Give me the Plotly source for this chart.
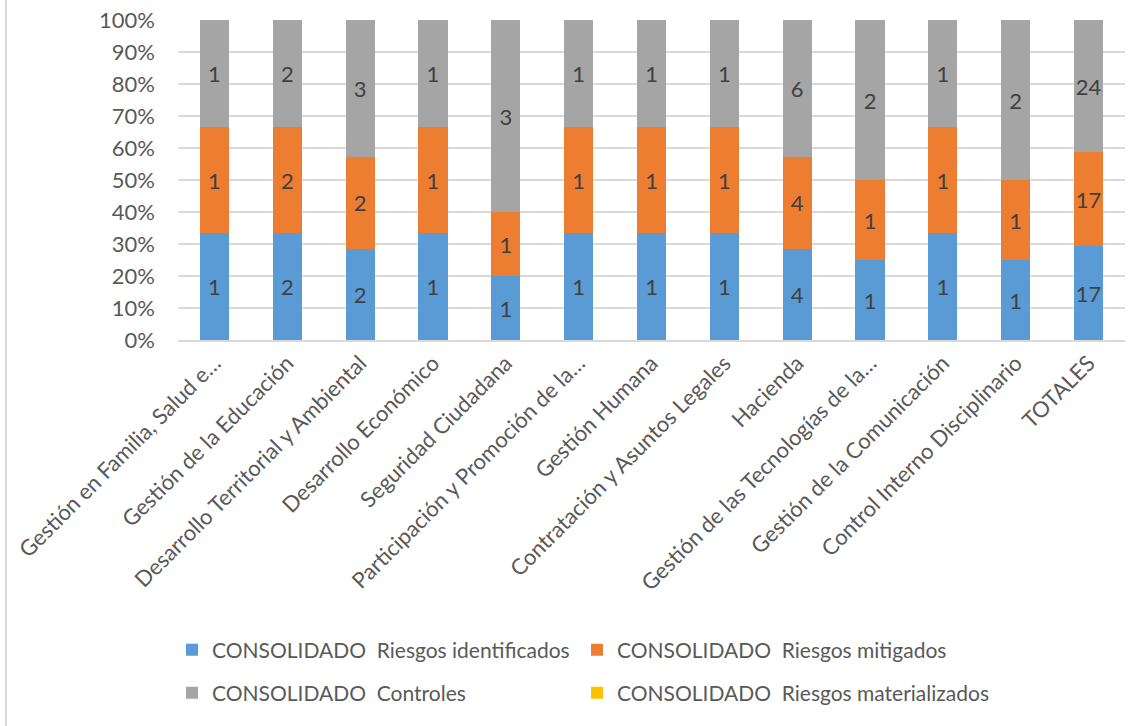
import plotly.graph_objects as go

categories = [
    "Gestión en Familia, Salud e…",
    "Gestión de la Educación",
    "Desarrollo Territorial y Ambiental",
    "Desarrollo Económico",
    "Seguridad Ciudadana",
    "Participación y Promoción de la…",
    "Gestión Humana",
    "Contratación y Asuntos Legales",
    "Hacienda",
    "Gestión de las Tecnologías de la…",
    "Gestión de la Comunicación",
    "Control Interno Disciplinario",
    "TOTALES",
]
riesgos_identificados = [1, 2, 2, 1, 1, 1, 1, 1, 4, 1, 1, 1, 17]
riesgos_mitigados = [1, 2, 2, 1, 1, 1, 1, 1, 4, 1, 1, 1, 17]
controles = [1, 2, 3, 1, 3, 1, 1, 1, 6, 2, 1, 2, 24]
riesgos_materializados = [0, 0, 0, 0, 0, 0, 0, 0, 0, 0, 0, 0, 0]
y_ticks = list(range(0, 101, 10))
y_tick_labels = [f"{v}%" for v in y_ticks]

W, H = 1143, 726
L, R, T, B = 178, 18, 20, 386
FONT = "Lato"
TXT = "#595959"

ph = H - T - B
pw = W - L - R


def py(px):
    return (H - B - px) / ph


def pxp(px):
    return (px - L) / pw


# one single-entry legend per series, laid out as a 2x2 grid below the chart
series = [
    ("CONSOLIDADO  Riesgos identificados", riesgos_identificados, "#5B9BD5", "legend", 172, 650),
    ("CONSOLIDADO  Riesgos mitigados", riesgos_mitigados, "#ED7D31", "legend2", 577, 650),
    ("CONSOLIDADO  Controles", controles, "#A5A5A5", "legend3", 172, 693),
    ("CONSOLIDADO  Riesgos materializados", riesgos_materializados, "#FFC000", "legend4", 577, 693),
]

fig = go.Figure()
legends = {}
for name, vals, color, lg, lx, ly in series:
    fig.add_trace(go.Bar(
        x=categories, y=vals, name=name, legend=lg,
        marker=dict(color=color, line=dict(width=0)),
        text=[str(v) if v else "" for v in vals],
        texttemplate="%{text}",
        textposition="inside", insidetextanchor="middle",
        constraintext="none", textangle=0,
        textfont=dict(family=FONT, size=22, color="#404040"),
        hoverinfo="skip",
    ))
    legends[lg] = dict(
        orientation="h", xanchor="left", yanchor="middle",
        x=pxp(lx), y=py(ly),
        font=dict(family=FONT, size=21, color=TXT),
        bgcolor="rgba(0,0,0,0)", itemclick=False, itemdoubleclick=False,
    )

fig.update_layout(
    width=W, height=H,
    margin=dict(l=L, r=R, t=T, b=B, autoexpand=False),
    barmode="stack", barnorm="percent", bargap=0.6,
    plot_bgcolor="white", paper_bgcolor="white",
    font=dict(family=FONT, size=22, color=TXT),
    showlegend=True,
    **legends,
    xaxis=dict(
        tickangle=-45, showgrid=False, showline=True,
        linecolor="#D9D9D9", linewidth=1.5, ticks="",
        tickfont=dict(family=FONT, size=22, color=TXT),
    ),
    yaxis=dict(
        range=[0, 100], tickvals=y_ticks, ticktext=y_tick_labels,
        showgrid=True, gridcolor="#D9D9D9", gridwidth=1.5,
        zeroline=False, showline=False, ticks="",
        ticklabelstandoff=22,
        tickfont=dict(family=FONT, size=22, color=TXT),
    ),
    shapes=[dict(
        type="line", xref="paper", yref="paper",
        x0=pxp(6), x1=pxp(6), y0=py(0), y1=py(H),
        line=dict(color="#D9D9D9", width=2),
    )],
)

fig.write_html("out.html")
